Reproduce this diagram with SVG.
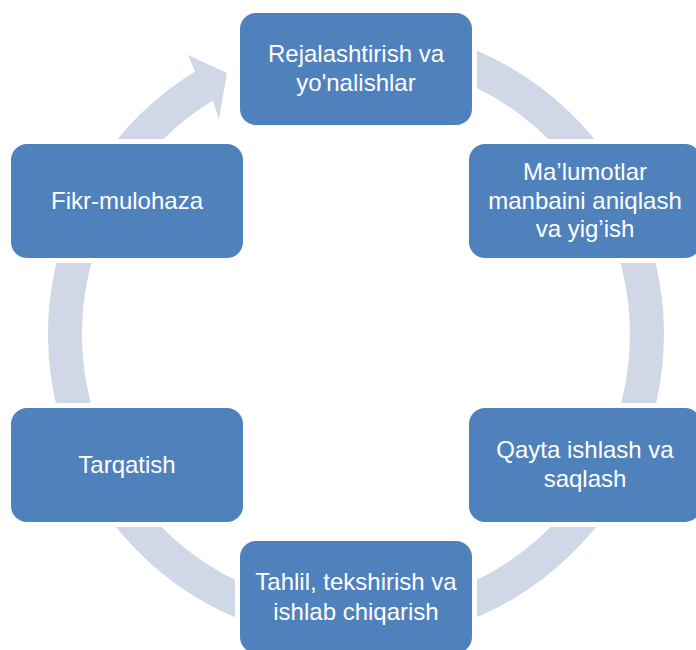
<svg xmlns="http://www.w3.org/2000/svg" width="696" height="650" viewBox="0 0 696 650">
  <style>
    .box { fill: #4F81BD; stroke: #FFFFFF; stroke-width: 10; paint-order: stroke; }
    .lbl { fill: #FFFFFF; font-family: "Liberation Sans", Arial, sans-serif; font-size: 24px; text-anchor: middle; }
    .ring { fill: #D0D8E8; stroke: none; }
  </style>
  <rect width="696" height="650" fill="#FFFFFF"/>
  <g id="connectors">
    <path class="ring" d="M 409.5 30.7 A 308 308 0 1 1 195.07 71.39 L 188 55 L 227 73 L 219 119 L 212.83 100.38 A 274 274 0 1 0 403.6 64.2 Z"/>
  </g>
  <g id="node-planning">
    <rect class="box" x="240" y="13" width="232" height="112" rx="16" ry="16"/>
    <text class="lbl" x="356" y="62">Rejalashtirish va</text>
    <text class="lbl" x="356" y="91">yo'nalishlar</text>
  </g>
  <g id="node-collection">
    <rect class="box" x="469" y="144" width="232" height="114" rx="16" ry="16"/>
    <text class="lbl" x="585" y="180">Ma’lumotlar</text>
    <text class="lbl" x="585" y="208.5">manbaini aniqlash</text>
    <text class="lbl" x="585" y="237">va yig’ish</text>
  </g>
  <g id="node-processing">
    <rect class="box" x="469" y="408" width="232" height="114" rx="16" ry="16"/>
    <text class="lbl" x="585" y="458">Qayta ishlash va</text>
    <text class="lbl" x="585" y="487">saqlash</text>
  </g>
  <g id="node-analysis">
    <rect class="box" x="240" y="541" width="232" height="112" rx="16" ry="16"/>
    <text class="lbl" x="356" y="590">Tahlil, tekshirish va</text>
    <text class="lbl" x="356" y="620">ishlab chiqarish</text>
  </g>
  <g id="node-dissemination">
    <rect class="box" x="11" y="408" width="232" height="114" rx="16" ry="16"/>
    <text class="lbl" x="127" y="473">Tarqatish</text>
  </g>
  <g id="node-feedback">
    <rect class="box" x="11" y="144" width="232" height="114" rx="16" ry="16"/>
    <text class="lbl" x="127" y="209">Fikr-mulohaza</text>
  </g>
</svg>
